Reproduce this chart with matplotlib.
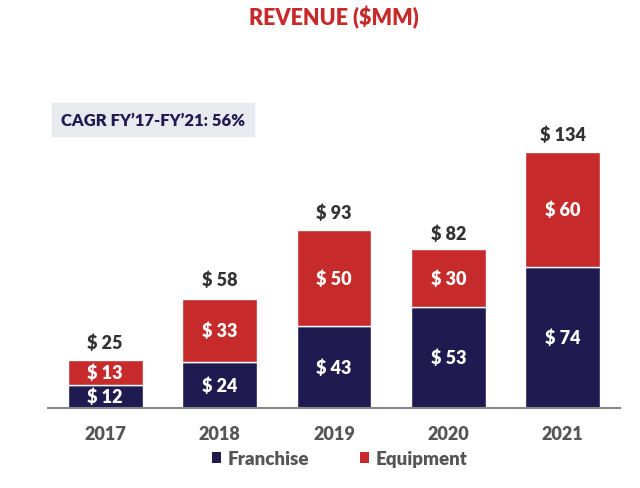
import matplotlib
matplotlib.use('Agg')
import matplotlib.pyplot as plt
from matplotlib.patches import Rectangle

# ---- data ----
years = ['2017', '2018', '2019', '2020', '2021']
franchise = [12, 24, 43, 53, 74]
equipment = [13, 33, 50, 30, 60]
totals = [25, 58, 93, 82, 134]

NAVY = '#1f1a4f'
RED = '#c62a2a'
GRAY = '#555555'
FW = 'heavy'

plt.rcParams['font.family'] = ['Lato', 'DejaVu Sans']

fig = plt.figure(figsize=(6.4, 4.89), dpi=100)
ax = fig.add_axes([48 / 640, 1 - 409 / 489, 572 / 640, 349 / 489])

x = list(range(len(years)))
w = 0.655
ax.bar(x, franchise, width=w, color=NAVY, edgecolor='white', linewidth=1)
ax.bar(x, equipment, width=w, bottom=franchise, color=RED, edgecolor='white', linewidth=1)

for i in x:
    ax.text(i, franchise[i] / 2, f'$ {franchise[i]}', ha='center', va='center',
            color='white', fontsize=13, fontweight=FW)
    ax.text(i, franchise[i] + equipment[i] / 2, f'$ {equipment[i]}', ha='center', va='center',
            color='white', fontsize=13, fontweight=FW)
    ax.text(i, totals[i] + 9.5, f'$ {totals[i]}', ha='center', va='center',
            color='#333333', fontsize=13, fontweight=FW)

ax.set_xlim(-0.5, 4.5)
ax.set_ylim(0, 349 / 1.91)
ax.set_xticks(x)
ax.set_xticklabels(years, fontsize=13, fontweight=FW, color=GRAY)
ax.tick_params(axis='x', length=0, pad=12)
ax.set_yticks([])
for s in ['top', 'right', 'left']:
    ax.spines[s].set_visible(False)
ax.spines['bottom'].set_color('#888888')
ax.spines['bottom'].set_linewidth(1.5)

# title
fig.text(334 / 640, 1 - 18 / 489, 'REVENUE ($MM)', ha='center', va='center',
         color=RED, fontsize=15.5, fontweight=FW)

# CAGR box
fig.patches.append(Rectangle((52 / 640, 1 - 137 / 489), 202 / 640, 33 / 489,
                             transform=fig.transFigure, color='#e9e9f0', zorder=0))
fig.text(153 / 640, 1 - 121 / 489, 'CAGR FY\u201917-FY\u201921: 56%', ha='center', va='center',
         color=NAVY, fontsize=12, fontweight=FW)

# legend
ax.bar([0], [0], color=NAVY, label='Franchise')
ax.bar([0], [0], color=RED, label='Equipment')
leg = ax.legend(loc='upper center', bbox_to_anchor=(0.51, -0.072), ncol=2, frameon=False,
                handlelength=0.5, handleheight=0.5, columnspacing=2.7, handletextpad=0.35,
                prop={'size': 13.5, 'weight': FW})
for t in leg.get_texts():
    t.set_color(GRAY)

fig.savefig('out.png', dpi=100)
